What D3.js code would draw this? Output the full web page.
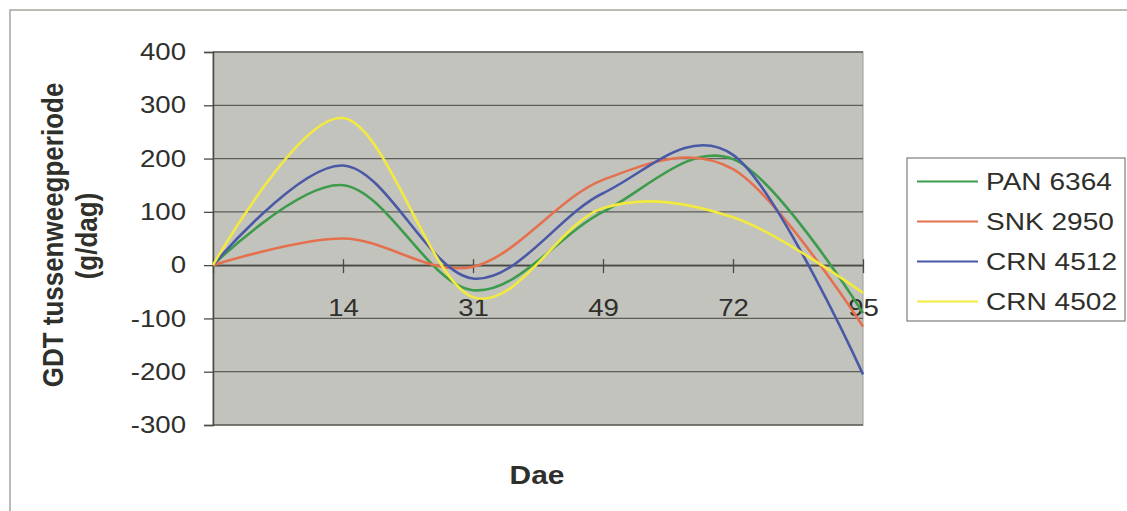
<!DOCTYPE html>
<html>
<head>
<meta charset="utf-8">
<script src="https://cdn.jsdelivr.net/npm/d3@7"></script>
<style>
  html, body { margin: 0; padding: 0; background: #ffffff; }
  svg { display: block; }
  text { font-family: Arial, "Liberation Sans", sans-serif; fill: #2f2f2b; }
</style>
</head>
<body>
<svg id="chart" width="1127" height="511"></svg>
<script>
// Days after emergence (first point is the start, left unlabelled)
const days = [0, 14, 31, 49, 72, 95];
const dayLabels = ["", "14", "31", "49", "72", "95"];

// Daily mass gain (g/dag) per cultivar
const seriesNames = ["PAN 6364", "SNK 2950", "CRN 4512", "CRN 4502"];
const pan6364 = [0, 150, -47, 100, 199, -90];
const snk2950 = [0, 50, -3, 160, 180, -115];
const crn4512 = [0, 187, -25, 135, 207, -205];
const crn4502 = [0, 276, -60, 107, 90, -52];
const seriesColors = ["#3d9b4c", "#e4704e", "#4a59a6", "#f2ea3e"];

const yTicks = [400, 300, 200, 100, 0, -100, -200, -300];

const series = [pan6364, snk2950, crn4512, crn4502];

const svg = d3.select("#chart");
const SX = 1.15; // horizontal text stretch of the chart's typeface

// outer chart frame
svg.append("rect")
  .attr("x", 10).attr("y", 10)
  .attr("width", 1140).attr("height", 520)
  .attr("fill", "none")
  .attr("stroke", "#a5a59e")
  .attr("stroke-width", 1.5);

const plot = { left: 213, right: 863, top: 52, bottom: 425 };

const x = d3.scalePoint()
  .domain(days)
  .range([plot.left, plot.right]);

const y = d3.scaleLinear()
  .domain([-300, 400])
  .range([plot.bottom, plot.top]);

// plot area background
svg.append("rect")
  .attr("x", plot.left).attr("y", plot.top)
  .attr("width", plot.right - plot.left)
  .attr("height", plot.bottom - plot.top)
  .attr("fill", "#c3c3be")
  .attr("stroke", "#9a9a94")
  .attr("stroke-width", 1);

// horizontal gridlines
svg.append("g")
  .selectAll("line")
  .data(yTicks)
  .join("line")
  .attr("x1", plot.left).attr("x2", plot.right)
  .attr("y1", d => y(d)).attr("y2", d => y(d))
  .attr("stroke", "#5e5e58")
  .attr("stroke-width", 1.3);

// y axis (plain hyphen for negatives)
const yAxis = svg.append("g")
  .attr("transform", `translate(${plot.left},0)`)
  .call(d3.axisLeft(y).tickValues(yTicks).tickFormat(d => String(d)).tickSize(9).tickPadding(18));
yAxis.attr("font-family", null);
yAxis.select(".domain").attr("stroke", "#4a4a45").attr("stroke-width", 1.5);
yAxis.selectAll(".tick line").attr("stroke", "#4a4a45").attr("stroke-width", 1.3);
yAxis.selectAll(".tick text")
  .attr("font-size", 24)
  .attr("fill", "#2b2b27")
  .each(function () {
    const t = d3.select(this);
    const tx = +t.attr("x");
    t.attr("x", 0).attr("transform", `translate(${tx},0) scale(${SX},1)`);
  });

// x axis along the zero line
const xAxis = svg.append("g")
  .attr("transform", `translate(0,${y(0)})`)
  .call(d3.axisBottom(x).tickValues(days).tickFormat((d, i) => dayLabels[i]).tickSizeOuter(0));
xAxis.attr("font-family", null);
xAxis.select(".domain").attr("stroke", "#4a4a45").attr("stroke-width", 1.5);
xAxis.selectAll(".tick line")
  .attr("y1", -6).attr("y2", 8)
  .attr("stroke", "#4a4a45").attr("stroke-width", 1.3);
xAxis.selectAll(".tick text")
  .attr("font-size", 24)
  .attr("fill", "#2b2b27")
  .attr("y", 0).attr("dy", null)
  .attr("transform", `translate(0,51) scale(${SX},1)`);

// smoothed series lines
const line = d3.line()
  .x((d, i) => x(days[i]))
  .y(d => y(d))
  .curve(d3.curveCardinal.tension(0));

svg.append("g")
  .selectAll("path")
  .data(series)
  .join("path")
  .attr("d", d => line(d))
  .attr("fill", "none")
  .attr("stroke", (d, i) => seriesColors[i])
  .attr("stroke-width", 2.6)
  .attr("stroke-linejoin", "round");

// axis titles
const yTitle = svg.append("g").attr("font-weight", "bold").attr("font-size", 26);
yTitle.append("text")
  .attr("text-anchor", "middle")
  .attr("transform", `translate(63,235) scale(${SX},1) rotate(-90)`)
  .text("GDT tussenweegperiode");
yTitle.append("text")
  .attr("text-anchor", "middle")
  .attr("transform", `translate(97,236) scale(${SX},1) rotate(-90)`)
  .text("(g/dag)");

svg.append("text")
  .attr("font-weight", "bold")
  .attr("font-size", 26)
  .attr("text-anchor", "middle")
  .attr("transform", `translate(537,484) scale(${SX},1)`)
  .text("Dae");

// legend
const legend = svg.append("g");
legend.append("rect")
  .attr("x", 907).attr("y", 158)
  .attr("width", 218).attr("height", 163)
  .attr("fill", "#ffffff")
  .attr("stroke", "#7d7d77")
  .attr("stroke-width", 1.2);

const rows = legend.selectAll("g.row")
  .data(seriesNames)
  .join("g")
  .attr("class", "row")
  .attr("transform", (d, i) => `translate(0,${181.5 + i * 40})`);
rows.append("line")
  .attr("x1", 917).attr("x2", 978)
  .attr("stroke", (d, i) => seriesColors[i])
  .attr("stroke-width", 2.2);
rows.append("text")
  .attr("font-size", 24)
  .attr("transform", `translate(986,8) scale(${SX + 0.02},1)`)
  .text(d => d);
</script>
</body>
</html>
